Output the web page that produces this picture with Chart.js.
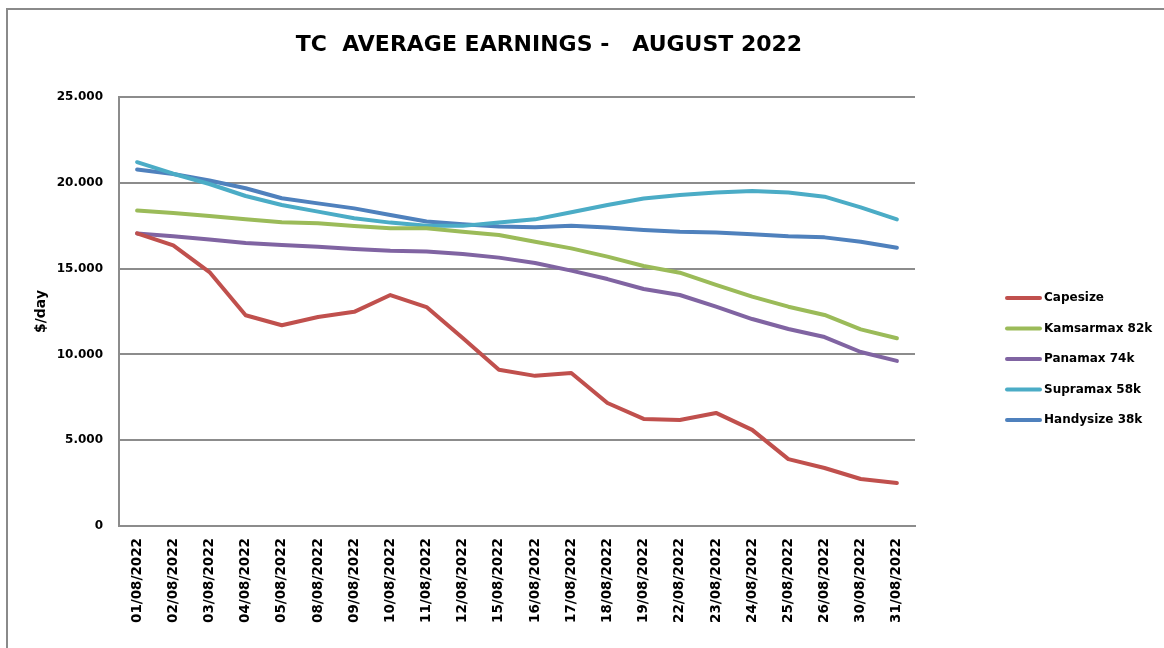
<!DOCTYPE html>
<html>
<head>
<meta charset="utf-8">
<script src="https://cdn.jsdelivr.net/npm/chart.js@4/dist/chart.umd.min.js"></script>
<style>
  html, body { margin: 0; padding: 0; background: #ffffff; }
  #wrap { position: relative; width: 1164px; height: 648px; }
</style>
</head>
<body>
<div id="wrap"><canvas id="earningsChart" width="1164" height="648"></canvas></div>
<script>
var dates = [
  "01/08/2022", "02/08/2022", "03/08/2022", "04/08/2022", "05/08/2022",
  "08/08/2022", "09/08/2022", "10/08/2022", "11/08/2022", "12/08/2022",
  "15/08/2022", "16/08/2022", "17/08/2022", "18/08/2022", "19/08/2022",
  "22/08/2022", "23/08/2022", "24/08/2022", "25/08/2022", "26/08/2022",
  "30/08/2022", "31/08/2022"
];
var capesize = [17050, 16350, 14800, 12280, 11700, 12180, 12480, 13460, 12760, 10950, 9100,
  8750, 8920, 7170, 6240, 6180, 6590, 5600, 3900, 3380, 2740, 2500];
var kamsarmax = [18380, 18240, 18060, 17870, 17700, 17640, 17480, 17350, 17350, 17150, 16960,
  16570, 16180, 15700, 15150, 14760, 14050, 13370, 12780, 12300, 11460, 10940];
var panamax = [17050, 16880, 16690, 16490, 16370, 16280, 16140, 16040, 15990, 15850, 15640,
  15330, 14880, 14390, 13810, 13460, 12780, 12060, 11480, 11010, 10140, 9620];
var supramax = [21200, 20530, 19930, 19230, 18710, 18320, 17930, 17680, 17500, 17490, 17680,
  17870, 18280, 18710, 19090, 19290, 19430, 19520, 19430, 19190, 18570, 17870];
var handysize = [20780, 20510, 20130, 19680, 19100, 18800, 18510, 18120, 17740, 17580, 17450,
  17410, 17500, 17390, 17250, 17150, 17100, 17000, 16880, 16820, 16570, 16220];
var yTicks = [0, 5000, 10000, 15000, 20000, 25000];

var chartTitle = "TC  AVERAGE EARNINGS -   AUGUST 2022";
var fontFamily = "'DejaVu Sans', sans-serif";
var gridGray = "#8c8c8c";

function dotThousands(v) {
  return String(v).replace(/\B(?=(\d{3})+(?!\d))/g, ".");
}

function makeSeries(label, data, color) {
  return {
    label: label,
    data: data,
    borderColor: color,
    backgroundColor: color,
    borderWidth: 4,
    pointRadius: 0,
    pointHoverRadius: 0,
    tension: 0,
    borderCapStyle: "round",
    borderJoinStyle: "round",
    fill: false
  };
}

// frame, title and legend drawn by hand so they sit where the original has them
var decorPlugin = {
  id: "decor",
  beforeDraw: function (chart) {
    var ctx = chart.ctx;
    ctx.save();
    ctx.fillStyle = "#ffffff";
    ctx.fillRect(0, 0, chart.width, chart.height);
    ctx.strokeStyle = "#8a8a8a";
    ctx.lineWidth = 2;
    ctx.beginPath();
    ctx.moveTo(7, chart.height);
    ctx.lineTo(7, 9);
    ctx.lineTo(chart.width, 9);
    ctx.stroke();
    ctx.restore();
  },
  afterDraw: function (chart) {
    var ctx = chart.ctx;
    ctx.save();
    ctx.fillStyle = "#000000";
    ctx.font = "bold 22px " + fontFamily;
    ctx.textAlign = "center";
    ctx.textBaseline = "middle";
    ctx.fillText(chartTitle, 549, 45);

    ctx.font = "bold 12px " + fontFamily;
    ctx.textAlign = "left";
    chart.data.datasets.forEach(function (ds, i) {
      var y = 298 + i * 30.5;
      ctx.strokeStyle = ds.borderColor;
      ctx.lineWidth = 4;
      ctx.lineCap = "round";
      ctx.beginPath();
      ctx.moveTo(1007, y);
      ctx.lineTo(1040, y);
      ctx.stroke();
      ctx.fillStyle = "#000000";
      ctx.fillText(ds.label, 1044, y);
    });
    ctx.restore();
  }
};

var ctx = document.getElementById("earningsChart").getContext("2d");
var myEarningsChart = new Chart(ctx, {
  type: "line",
  data: {
    labels: dates,
    datasets: [
      makeSeries("Capesize", capesize, "#C0504D"),
      makeSeries("Kamsarmax 82k", kamsarmax, "#9BBB59"),
      makeSeries("Panamax 74k", panamax, "#8064A2"),
      makeSeries("Supramax 58k", supramax, "#4BACC6"),
      makeSeries("Handysize 38k", handysize, "#4F81BD")
    ]
  },
  options: {
    responsive: false,
    animation: false,
    devicePixelRatio: 1,
    layout: { padding: { top: 97, right: 249, bottom: 0, left: 0 } },
    plugins: {
      legend: { display: false },
      title: { display: false },
      tooltip: { enabled: false }
    },
    scales: {
      x: {
        offset: true,
        grid: { display: false, drawTicks: false },
        border: { display: true, color: gridGray, width: 2 },
        ticks: {
          autoSkip: false,
          minRotation: 90,
          maxRotation: 90,
          padding: 12,
          color: "#000000",
          font: { family: fontFamily, size: 13.5, weight: "bold" }
        },
        afterFit: function (scale) { scale.height = 122; }
      },
      y: {
        min: 0,
        max: 25000,
        afterBuildTicks: function (scale) {
          scale.ticks = yTicks.map(function (v) { return { value: v }; });
        },
        grid: { color: gridGray, lineWidth: 2, drawTicks: false },
        border: { display: true, color: gridGray, width: 2 },
        ticks: {
          padding: 16,
          color: "#000000",
          font: { family: fontFamily, size: 12, weight: "bold" },
          callback: function (value) { return dotThousands(value); }
        },
        title: {
          display: true,
          text: "$/day",
          color: "#000000",
          padding: { top: 33, bottom: 0 },
          font: { family: fontFamily, size: 14, weight: "bold" }
        },
        afterFit: function (scale) { scale.width = 119; }
      }
    }
  },
  plugins: [decorPlugin]
});
</script>
</body>
</html>
